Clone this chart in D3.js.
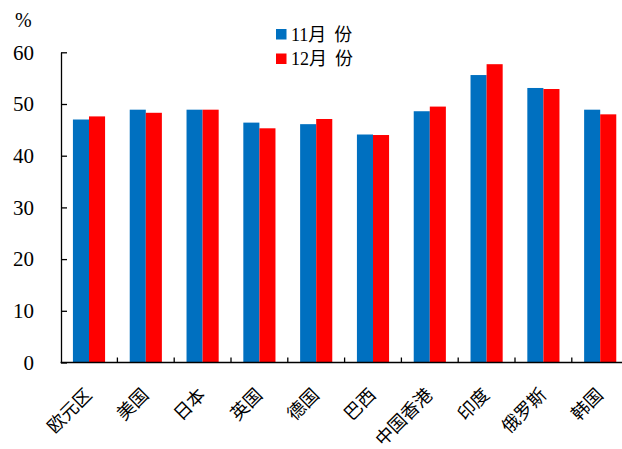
<!DOCTYPE html>
<html><head><meta charset="utf-8">
<script src="https://cdn.jsdelivr.net/npm/d3@7"></script>
<style>
html,body{margin:0;padding:0;background:#fff;}
svg{display:block;}
text{font-family:"Liberation Serif","Times New Roman","Noto Sans CJK SC",serif;fill:#000;}
</style></head>
<body>
<svg id="chart" width="622" height="449"></svg>
<script>
const categories = ["欧元区","美国","日本","英国","德国","巴西","中国香港","印度","俄罗斯","韩国"];
const seriesNames = ["11月份","12月份"];
const nov = [47.0, 48.9, 48.9, 46.4, 46.1, 44.1, 48.6, 55.6, 53.1, 48.9];
const dec = [47.6, 48.3, 48.9, 45.3, 47.1, 44.0, 49.5, 57.7, 52.9, 48.0];
const yTicks = [0,10,20,30,40,50,60];
const colors = ["#0070C0","#FF0000"];

const svg = d3.select("#chart");
const y = d3.scaleLinear().domain([0,60]).range([362.5,52.3]);
const x = d3.scaleBand().domain(categories).range([60.6,628.6]).padding(0);
const barW = x.bandwidth()*0.283;
const xs = d3.scaleBand().domain(seriesNames).range([-barW, barW]);

const series = [nov, dec];
series.forEach((vals, si) => {
  svg.append("g").selectAll("rect").data(vals).join("rect")
    .attr("x", (d,i) => x(categories[i]) + x.bandwidth()/2 + xs(seriesNames[si]))
    .attr("width", xs.bandwidth())
    .attr("y", d => y(d))
    .attr("height", d => y(0) - y(d))
    .attr("fill", colors[si]);
});

// Y axis
const yAxis = svg.append("g").attr("transform","translate(61,0)")
  .call(d3.axisLeft(y).tickValues(yTicks).tickSizeInner(-6).tickSizeOuter(0).tickPadding(27));
yAxis.select(".domain").attr("stroke","#000").attr("stroke-width",1.3);
yAxis.selectAll(".tick line").attr("stroke","#000").attr("stroke-width",1.3);
yAxis.selectAll(".tick text").attr("font-size",21).attr("font-family",'"Liberation Serif",serif');

// X axis line and ticks at band boundaries
svg.append("line").attr("x1",60.6).attr("x2",640).attr("y1",y(0)).attr("y2",y(0))
  .attr("stroke","#000").attr("stroke-width",1.3);
svg.append("g").selectAll("line").data(categories.slice(1)).join("line")
  .attr("x1", d => x(d)).attr("x2", d => x(d))
  .attr("y1", y(0)).attr("y2", y(0)-5)
  .attr("stroke","#000").attr("stroke-width",1.3);

// X labels rotated
svg.append("g").selectAll("text").data(categories).join("text")
  .attr("transform", d => `translate(${x(d)+x.bandwidth()/2+4},396) rotate(-45)`)
  .attr("text-anchor","end")
  .attr("font-size",18)
  .attr("font-family",'"Noto Sans CJK SC",sans-serif')
  .text(d => d);

// Unit label
svg.append("text").attr("x",15).attr("y",27).attr("font-size",20).text("%");

// Legend
const lg = svg.append("g");
seriesNames.forEach((n,i) => {
  lg.append("rect").attr("x",276).attr("y",29+i*24.5).attr("width",10.5).attr("height",10.5).attr("fill",colors[i]);
  const t = lg.append("text").attr("x",291).attr("y",40.5+i*24.5).attr("font-size",18);
  t.append("tspan").text(n.slice(0, n.length-1));
  t.append("tspan").attr("dx",8).text(n.slice(n.length-1));
});
</script>
</body></html>
